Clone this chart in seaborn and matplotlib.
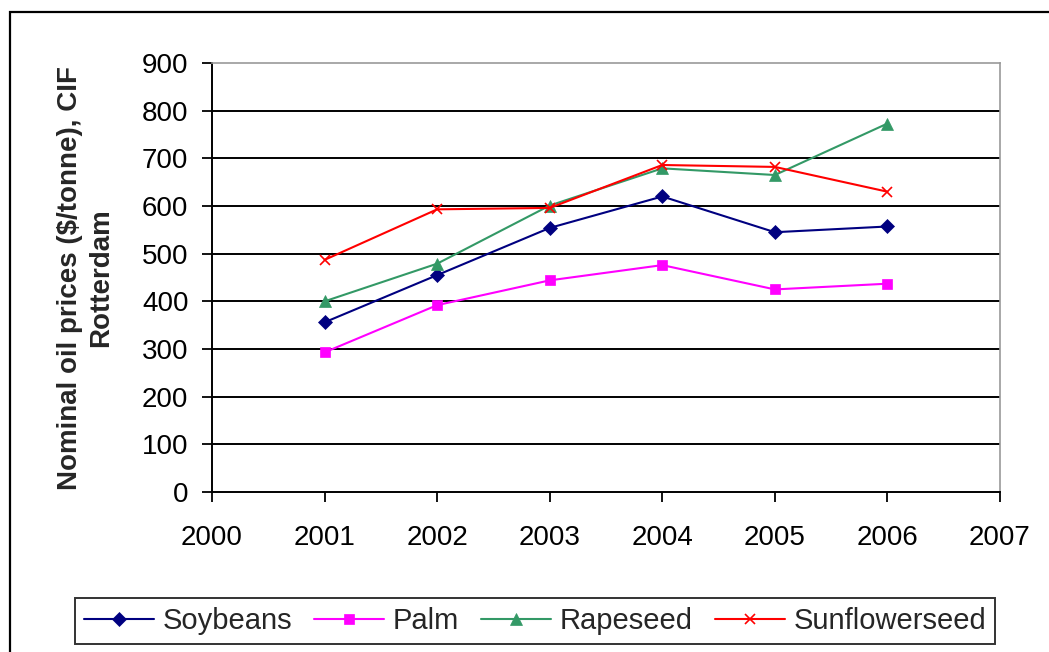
import matplotlib
matplotlib.use("Agg")
import matplotlib.pyplot as plt
from matplotlib.patches import Rectangle
import seaborn as sns
import pandas as pd

years = [2001, 2002, 2003, 2004, 2005, 2006]
soybeans = [356, 455, 554, 620, 545, 557]
palm = [293, 392, 444, 476, 425, 437]
rapeseed = [400, 479, 601, 679, 665, 773]
sunflowerseed = [487, 593, 596, 686, 682, 630]

series_names = ["Soybeans", "Palm", "Rapeseed", "Sunflowerseed"]
series_values = [soybeans, palm, rapeseed, sunflowerseed]
colors = {"Soybeans": "#000080", "Palm": "#FF00FF",
          "Rapeseed": "#339966", "Sunflowerseed": "#FF0000"}
markers = {"Soybeans": "D", "Palm": "s", "Rapeseed": "^", "Sunflowerseed": "x"}
marker_sizes = {"Soybeans": 10, "Palm": 10.5, "Rapeseed": 11, "Sunflowerseed": 10}
ytick_values = list(range(0, 1000, 100))
xtick_values = list(range(2000, 2008))

df = pd.DataFrame([
    {"Year": y, "Price": v, "Oil": name}
    for name, vals in zip(series_names, series_values)
    for y, v in zip(years, vals)
])

sns.set_style("white")
plt.rcParams["font.family"] = ["Liberation Sans", "DejaVu Sans"]

fig = plt.figure(figsize=(10.49, 6.52), dpi=100)
ax = fig.add_axes([212 / 1049, 1 - 492 / 652, (1000 - 212) / 1049, (492 - 63) / 652])

# outer chart border
fig.patches.append(Rectangle((10 / 1049, -0.02), 1.05, 1 - 12 / 652 + 0.02,
                             transform=fig.transFigure, fill=False,
                             edgecolor="black", linewidth=1.6, zorder=0))

for yv in ytick_values[1:-1]:
    ax.axhline(yv, color="black", linewidth=1.4, zorder=1)

for name in series_names:
    sub = df[df["Oil"] == name]
    sns.lineplot(data=sub, x="Year", y="Price", color=colors[name],
                 marker=markers[name], markersize=marker_sizes[name],
                 markeredgewidth=1.2 if markers[name] == "x" else 0.5,
                 markeredgecolor=colors[name],
                 linewidth=1.5, ax=ax, zorder=3, label=name)

ax.set_xlim(2000, 2007)
ax.set_ylim(0, 900)
ax.set_xticks(xtick_values)
ax.set_yticks(ytick_values)
ax.tick_params(axis="both", which="both", direction="out", length=7, width=1.3,
               labelsize=20, colors="black", bottom=True, left=True)
ax.tick_params(axis="y", pad=10)
ax.tick_params(axis="x", pad=17)
ax.set_xlabel("")
ax.set_ylabel("Nominal oil prices ($/tonne), CIF\nRotterdam", fontsize=20,
              fontweight="bold", labelpad=20, linespacing=1.25)

for side in ("top", "right"):
    ax.spines[side].set_visible(True)
    ax.spines[side].set_color("#999999")
    ax.spines[side].set_linewidth(1.2)
for side in ("left", "bottom"):
    ax.spines[side].set_color("black")
    ax.spines[side].set_linewidth(1.4)

handles, labels = ax.get_legend_handles_labels()
if ax.get_legend() is not None:
    ax.get_legend().remove()
for h in handles:
    h.set_markersize(h.get_markersize() * 0.75)
leg = fig.legend(handles, labels, loc="center",
                 bbox_to_anchor=((77 + 993) / 2 / 1049, 1 - 621 / 652),
                 ncol=4, frameon=True, fontsize=21, handlelength=2.4,
                 handletextpad=0.3, columnspacing=0.75, borderpad=0.3,
                 borderaxespad=0, fancybox=False, edgecolor="black")
leg.get_frame().set_linewidth(1.4)

fig.savefig("out.png", dpi=100, facecolor="white")
